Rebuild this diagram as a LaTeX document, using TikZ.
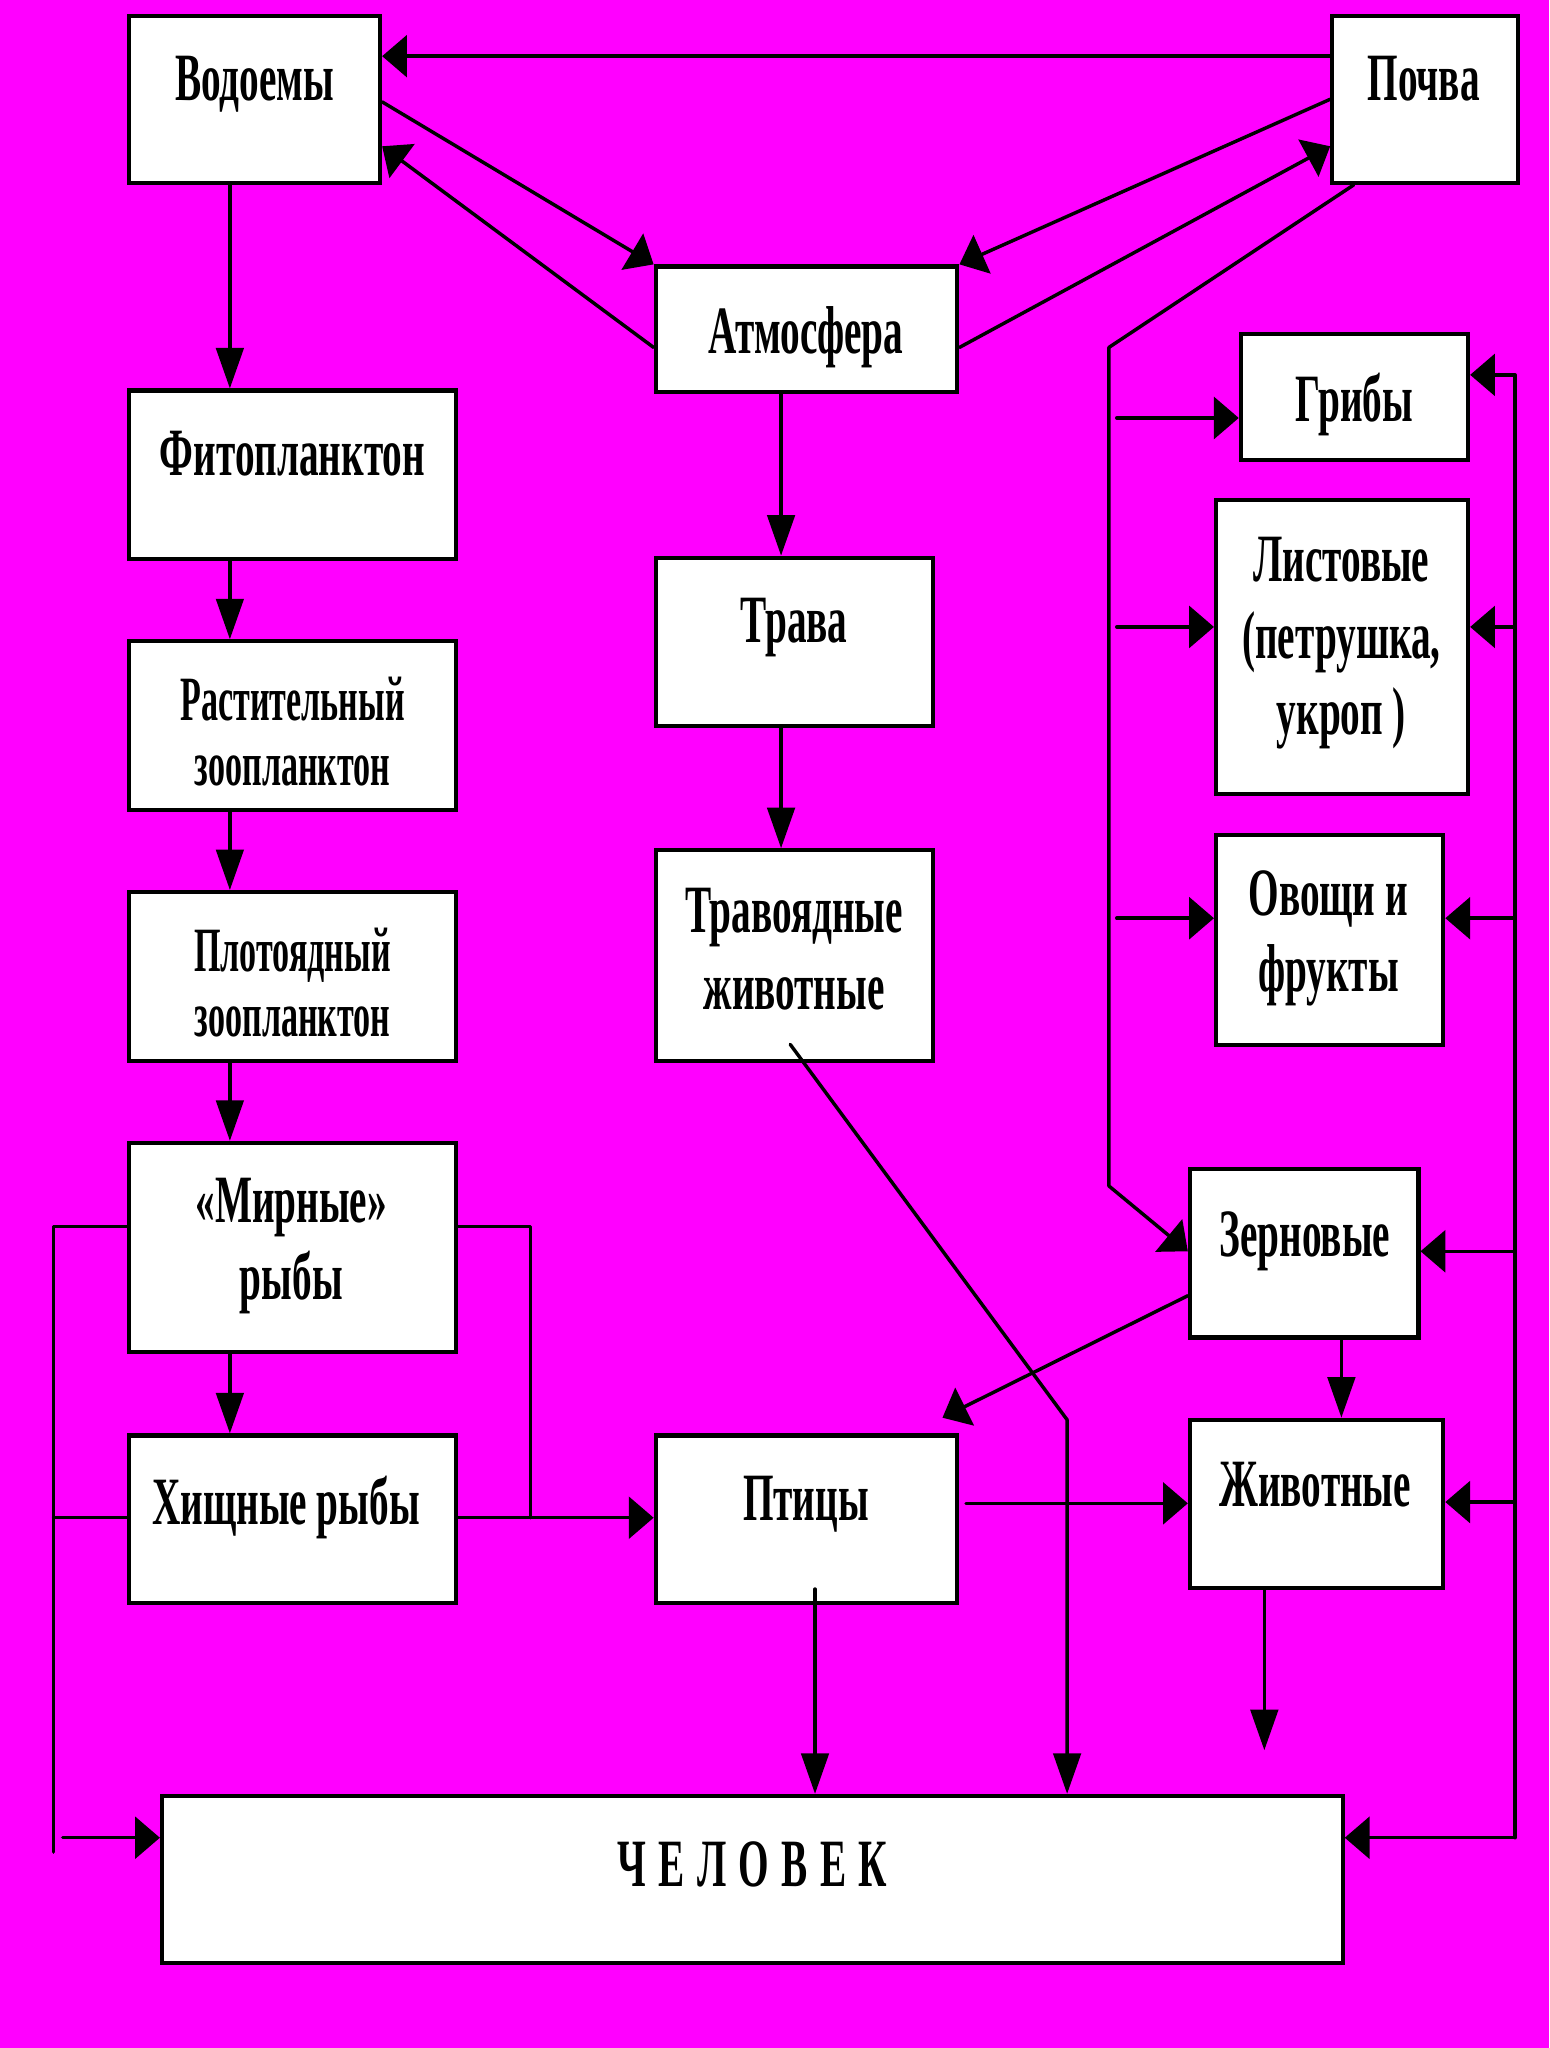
\documentclass[tikz,border=0pt]{standalone}
\usepackage{fontspec}
\usepackage{tikz}
\usetikzlibrary{arrows.meta,calc,fit}
\newfontfamily\narrowfont[FakeStretch=0.58]{Liberation Serif}
\newfontfamily\narrowerfont[FakeStretch=0.54]{Liberation Serif}
\definecolor{ffqqff}{rgb}{1.,0.,1.}

\begin{document}
\begin{tikzpicture}[line cap=round,line join=round,x=0.02cm,y=-0.02cm,
	box/.style={draw,fill=white,line width=1.8pt,line join=miter,inner sep=0pt},
	txt/.style={anchor=north,align=center,inner sep=0pt,font=\narrowfont\bfseries\fontsize{29.5}{33.3}\selectfont},
	tight/.style={font=\narrowerfont\bfseries\fontsize{27.5}{28.4}\selectfont},
	con/.style={line width=1.5pt},
	harr/.style={con,-{Triangle[length=0.38cm,width=0.64cm]}},
	varr/.style={con,-{Triangle[length=0.62cm,width=0.42cm]}}]
		\fill[color=ffqqff] (0,0) rectangle (1186,1568);
		\node[box,fit={(99,12) (291,140)}] (vod) {};
		\node[box,fit={(1020,12) (1162,140)}] (poc) {};
		\node[box,fit={(502,204) (733,300)}] (atm) {};
		\node[box,fit={(99,299) (349,428)}] (fito) {};
		\node[box,fit={(502,427) (714,556)}] (trava) {};
		\node[box,fit={(950,256) (1124,352)}] (grib) {};
		\node[box,fit={(931,383) (1124,608)}] (list) {};
		\node[box,fit={(99,491) (349,620)}] (rast) {};
		\node[box,fit={(99,683) (349,812)}] (plot) {};
		\node[box,fit={(502,651) (714,812)}] (travo) {};
		\node[box,fit={(931,639) (1105,800)}] (ovo) {};
		\node[box,fit={(99,875) (349,1035)}] (mir) {};
		\node[box,fit={(911,895) (1086,1024)}] (zern) {};
		\node[box,fit={(99,1099) (349,1227)}] (hish) {};
		\node[box,fit={(502,1099) (733,1227)}] (ptic) {};
		\node[box,fit={(911,1087) (1105,1216)}] (jiv) {};
		\node[box,fit={(124,1375) (1028,1503)}] (chel) {};
		\node[txt] (vodt) at (195,43) {Водоемы};
		\node[txt] (poct) at (1090,43) {Почва};
		\node[txt] (atmt) at (617,234) {Атмосфера};
		\node[txt] (fitot) at (224,330) {Фитопланктон};
		\node[txt] (travat) at (608,458) {Трава};
		\node[txt] (gribt) at (1037,285) {Грибы};
		\node[txt] (listt) at (1027,411) {Листовые\\(петрушка,\\укроп )};
		\node[txt,tight] (rastt) at (224,518) {Растительный\\зоопланктон};
		\node[txt,tight] (plott) at (224,710) {Плотоядный\\зоопланктон};
		\node[txt] (travot) at (608,680) {Травоядные\\животные};
		\node[txt] (ovot) at (1017,666) {Овощи и\\фрукты};
		\node[txt] (mirt) at (223,902) {«Мирные»\\рыбы};
		\node[txt] (zernt) at (999,927) {Зерновые};
		\node[txt] (hisht) at (219,1130) {Хищные рыбы};
		\node[txt] (ptict) at (617,1130) {Птицы};
		\node[txt] (jivt) at (1007,1119) {Животные};
		\node[txt] (chelt) at (576,1410) {Ч\kern0.19cm Е\kern0.19cm Л\kern0.19cm О\kern0.19cm В\kern0.19cm Е\kern0.19cm К};
		\coordinate (lx) at (176,0);
		\coordinate (mx) at (598,0);
		\coordinate (bx) at (855,0);
		\coordinate (st) at (849,266);
		\coordinate (sb) at (849,908);
		\coordinate (rt) at (1160,287);
		\coordinate (rb) at (1160,1407);
		\coordinate (tk) at (817,1087);
		\coordinate (jend) at (968,1340);
		\coordinate (lt) at (41,939);
		\coordinate (lb) at (41,1418);
		\coordinate (la) at (48,1407);
		\coordinate (rl) at (406,939);
		\draw[harr] (poc.west |- 0,43) -- (vod.east |- 0,43);
		\draw[harr] (vod.east |- 0,78) -- (atm.north west);
		\draw[harr] (atm.west |- 0,266) -- (vod.east |- 0,112);
		\draw[harr] (poc.west |- 0,76) -- (atm.north east);
		\draw[harr] (atm.east |- 0,266) -- (poc.west |- 0,112);
		\draw[varr] (vod.south -| lx) -- (fito.north -| lx);
		\draw[varr] (fito.south -| lx) -- (rast.north -| lx);
		\draw[varr] (rast.south -| lx) -- (plot.north -| lx);
		\draw[varr] (plot.south -| lx) -- (mir.north -| lx);
		\draw[varr] (mir.south -| lx) -- (hish.north -| lx);
		\draw[varr] (atm.south -| mx) -- (trava.north -| mx);
		\draw[varr] (trava.south -| mx) -- (travo.north -| mx);
		\draw[harr] ($(poc.south west)+(18,0)$) -- (st) -- (sb) -- (zern.west |- 0,958);
		\draw[harr] (bx |- 0,320) -- (grib.west |- 0,320);
		\draw[harr] (bx |- 0,480) -- (list.west |- 0,480);
		\draw[harr] (bx |- 0,703) -- (ovo.west |- 0,703);
		\draw[harr] (rb) -- (rt) -- (grib.east |- rt);
		\draw[harr] (rt |- 0,480) -- (list.east |- 0,480);
		\draw[harr] (rt |- 0,703) -- (ovo.east |- 0,703);
		\draw[harr] (rt |- 0,958) -- (zern.east |- 0,958);
		\draw[harr] (rt |- 0,1150) -- (jiv.east |- 0,1150);
		\draw[harr] (rb) -- (chel.east |- rb);
		\draw[harr] (zern.west |- 0,992) -- ($(ptic.north east)+(-13,-12)$);
		\draw[varr] (zern.south -| 1027,0) -- (jiv.north -| 1027,0);
		\draw[harr] ($(ptic.east |- 0,1151)+(5,0)$) -- (jiv.west |- 0,1151);
		\draw[varr] ($(ptic.south -| 624,0)+(0,-12)$) -- (chel.north -| 624,0);
		\draw[varr] ($(travo.south)+(-3,-14)$) -- (tk) -- (chel.north -| tk);
		\draw[varr] (jiv.south -| jend) -- (jend);
		\draw[con] (mir.west |- lt) -- (lt) -- (lb);
		\draw[con] (hish.west |- 0,1162) -- (lt |- 0,1162);
		\draw[harr] (la) -- (chel.west |- la);
		\draw[con] (mir.east |- rl) -- (rl) -- (rl |- 0,1162);
		\draw[harr] (hish.east |- 0,1162) -- (ptic.west |- 0,1162);
\end{tikzpicture}
\end{document}
